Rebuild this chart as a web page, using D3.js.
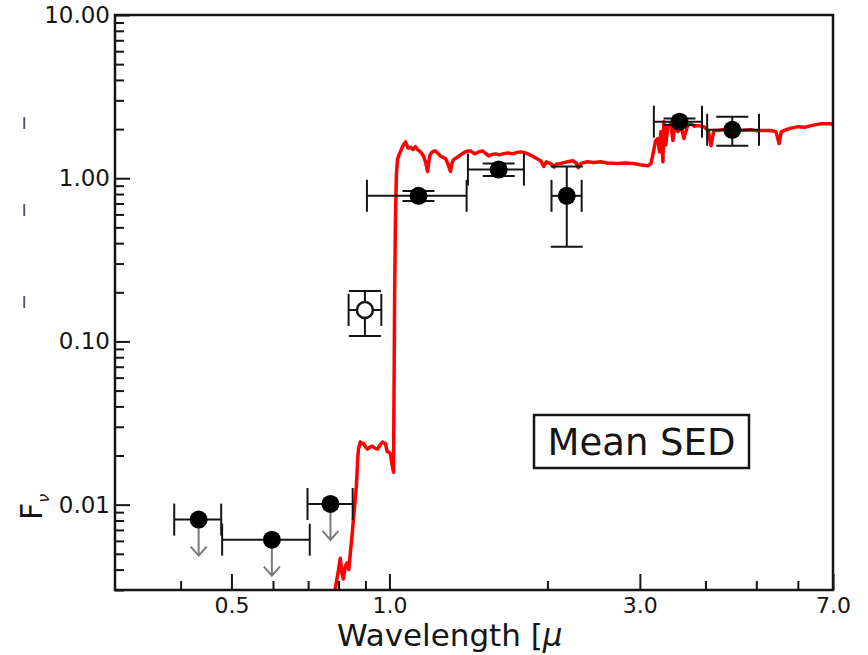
<!DOCTYPE html>
<html>
<head>
<meta charset="utf-8">
<script src="https://cdn.jsdelivr.net/npm/d3@7"></script>
<style>
  html, body { margin: 0; padding: 0; background: #fff; }
  svg { display: block; font-family: "DejaVu Sans", sans-serif; }
</style>
</head>
<body>
<svg id="chart" width="868" height="655"></svg>
<script>
// ---- Photometric points (wavelength in micron, flux F_nu) ----
const photWave     = [0.433, 0.597, 0.772, 0.898, 1.136, 1.615, 2.177, 3.57, 4.50];
const photWaveLo   = [0.389, 0.480, 0.698, 0.836, 0.906, 1.411, 2.036, 3.19, 4.03];
const photWaveHi   = [0.478, 0.705, 0.851, 0.965, 1.403, 1.804, 2.324, 3.94, 5.06];
const photFlux     = [0.0081, 0.0061, 0.0101, 0.156, 0.78, 1.13, 0.78, 2.22, 1.98];
const photFluxErr  = [0, 0, 0, 0.048, 0.055, 0.10, 0.40, 0.10, 0.40];
const photUpperLim = [true, true, true, false, false, false, false, false, false];
const photOpen     = [false, false, false, true, false, false, false, false, false];

// ---- Mean model spectrum ----
const specWave = [
  0.780, 0.789, 0.800, 0.806, 0.812, 0.817, 0.824, 0.831, 0.837, 0.843,
  0.849, 0.854, 0.860, 0.865, 0.870, 0.873, 0.880, 0.886, 0.892, 0.900,
  0.908, 0.918, 0.928, 0.938, 0.949, 0.960, 0.970, 0.983, 0.990, 0.996,
  1.004, 1.012, 1.018, 1.020, 1.023, 1.027, 1.031, 1.036, 1.042, 1.049,
  1.061, 1.073, 1.085, 1.097, 1.109, 1.121, 1.133, 1.146, 1.161, 1.172,
  1.182, 1.190, 1.197, 1.210, 1.224, 1.237, 1.251, 1.265, 1.279, 1.293,
  1.307, 1.316, 1.325, 1.340, 1.354, 1.375, 1.396, 1.412, 1.428, 1.444,
  1.459, 1.480, 1.504, 1.525, 1.545, 1.570, 1.594, 1.620, 1.643, 1.680,
  1.717, 1.750, 1.778, 1.805, 1.834, 1.870, 1.900, 1.942, 1.968, 1.990,
  2.029, 2.060, 2.080, 2.121, 2.160, 2.186, 2.235, 2.270, 2.290, 2.314,
  2.350, 2.387, 2.450, 2.527, 2.600, 2.724, 2.820, 2.921, 3.000, 3.060,
  3.108, 3.149, 3.177, 3.215, 3.247, 3.270, 3.290, 3.305, 3.319, 3.333,
  3.362, 3.392, 3.437, 3.468, 3.500, 3.545, 3.600, 3.640, 3.700, 3.753,
  3.810, 3.870, 3.974, 4.050, 4.099, 4.150, 4.226, 4.350, 4.475, 4.580,
  4.676, 4.886, 5.000, 5.105, 5.335, 5.450, 5.526, 5.580, 5.648, 5.800,
  6.005, 6.180, 6.361, 6.645, 6.943, 7.000
];
const specFlux = [
  0.0025, 0.0031, 0.0040, 0.0047, 0.0038, 0.0035, 0.0042, 0.0044, 0.0040, 0.0052,
  0.0065, 0.0082, 0.0105, 0.0130, 0.0190, 0.0219, 0.0242, 0.0236, 0.0238, 0.0226,
  0.0219, 0.0225, 0.0228, 0.0222, 0.0219, 0.0232, 0.0242, 0.0236, 0.0212, 0.0210,
  0.0205, 0.0175, 0.0158, 0.0400, 0.2000, 0.6000, 1.0500, 1.3000, 1.3800, 1.4500,
  1.58, 1.67, 1.53, 1.55, 1.50, 1.56, 1.49, 1.45, 1.37, 1.25,
  1.10, 1.30, 1.41, 1.46, 1.47, 1.42, 1.37, 1.34, 1.32, 1.22,
  1.10, 1.24, 1.30, 1.33, 1.36, 1.41, 1.45, 1.47, 1.47, 1.43,
  1.41, 1.45, 1.47, 1.42, 1.37, 1.40, 1.41, 1.39, 1.41, 1.43,
  1.41, 1.44, 1.45, 1.44, 1.41, 1.37, 1.33, 1.28, 1.18, 1.26,
  1.23, 1.17, 1.22, 1.23, 1.25, 1.26, 1.28, 1.24, 1.16, 1.23,
  1.25, 1.26, 1.25, 1.26, 1.24, 1.23, 1.24, 1.23, 1.21, 1.20,
  1.19, 1.23, 1.40, 1.70, 1.75, 1.45, 1.93, 1.75, 1.26, 2.22,
  1.60, 2.07, 2.16, 1.70, 2.10, 1.93, 2.05, 1.75, 2.10, 2.16,
  2.08, 2.10, 2.07, 1.95, 1.58, 1.96, 1.96, 1.99, 2.01, 1.97,
  1.96, 1.98, 1.95, 1.96, 1.96, 1.93, 1.63, 1.93, 1.96, 2.02,
  2.07, 2.05, 2.10, 2.16, 2.16, 2.13
];

// ---- Axis ticks ----
const xMajorTicks = [0.5, 1.0, 3.0, 7.0];
const xMinorTicks = [0.4, 0.6, 0.7, 0.8, 0.9, 2, 4, 5, 6];
const yMajorTicks = [0.01, 0.1, 1, 10];
const yMinorTicks = [
  0.003, 0.004, 0.005, 0.006, 0.007, 0.008, 0.009,
  0.02, 0.03, 0.04, 0.05, 0.06, 0.07, 0.08, 0.09,
  0.2, 0.3, 0.4, 0.5, 0.6, 0.7, 0.8, 0.9,
  2, 3, 4, 5, 6, 7, 8, 9
];
const boxLabel = "Mean SED";

// ---- Layout ----
const plot = { left: 115, right: 833, top: 15, bottom: 590 };
const ink = "#151515";

const svg = d3.select("#chart");

const x = d3.scaleLog().domain([0.3, 7]).range([plot.left, plot.right]);
const y = d3.scaleLog().domain([0.003, 10]).range([plot.bottom, plot.top]);

svg.append("defs").append("clipPath").attr("id", "plot-clip")
  .append("rect")
  .attr("x", plot.left).attr("y", plot.top)
  .attr("width", plot.right - plot.left).attr("height", plot.bottom - plot.top);

// ---- Model spectrum ----
const spec = specWave.map((w, i) => ({ w, f: specFlux[i] }));
svg.append("path")
  .datum(spec)
  .attr("clip-path", "url(#plot-clip)")
  .attr("fill", "none")
  .attr("stroke", "#ff0000")
  .attr("stroke-width", 3.5)
  .attr("stroke-linejoin", "round")
  .attr("d", d3.line().x(d => x(d.w)).y(d => y(d.f)));

// ---- Axes (ticks point inward) ----
const yMajor = svg.append("g")
  .attr("transform", `translate(${plot.left},0)`)
  .call(d3.axisLeft(y).tickValues(yMajorTicks).tickFormat(d3.format(".2f"))
    .tickSizeInner(-15).tickSizeOuter(0).tickPadding(5));
const yMinor = svg.append("g")
  .attr("transform", `translate(${plot.left},0)`)
  .call(d3.axisLeft(y).tickValues(yMinorTicks).tickFormat("")
    .tickSizeInner(-9).tickSizeOuter(0));
const xMajor = svg.append("g")
  .attr("transform", `translate(0,${plot.bottom})`)
  .call(d3.axisBottom(x).tickValues(xMajorTicks).tickFormat(d3.format(".1f"))
    .tickSizeInner(-16).tickSizeOuter(0).tickPadding(7));
const xMinor = svg.append("g")
  .attr("transform", `translate(0,${plot.bottom})`)
  .call(d3.axisBottom(x).tickValues(xMinorTicks).tickFormat("")
    .tickSizeInner(-9).tickSizeOuter(0));

[yMajor, yMinor, xMajor, xMinor].forEach(g => {
  g.select(".domain").remove();
  g.selectAll(".tick line").attr("stroke", ink).attr("stroke-width", 2);
  g.selectAll(".tick text").attr("fill", ink).attr("font-family", "DejaVu Sans");
});
yMajor.selectAll(".tick text").attr("font-size", 23);
xMajor.selectAll(".tick text").attr("font-size", 22);

// plot frame
svg.append("rect")
  .attr("x", plot.left).attr("y", plot.top)
  .attr("width", plot.right - plot.left).attr("height", plot.bottom - plot.top)
  .attr("fill", "none").attr("stroke", ink).attr("stroke-width", 2.5);

// ---- Photometry: error bars, limits, markers ----
const capSize = 16;
const phot = photWave.map((w, i) => ({
  w, lo: photWaveLo[i], hi: photWaveHi[i], f: photFlux[i], e: photFluxErr[i],
  lim: photUpperLim[i], open: photOpen[i]
}));

const pg = svg.append("g").attr("stroke", ink).attr("stroke-width", 2).attr("fill", "none");

// upper-limit arrows
const arrowLen = 36;
phot.filter(d => d.lim).forEach(d => {
  const cx = x(d.w), cy = y(d.f);
  const tip = cy + arrowLen;
  pg.append("line").attr("x1", cx).attr("x2", cx).attr("y1", cy).attr("y2", tip)
    .attr("stroke", "#7a7a7a");
  pg.append("path").attr("d", `M${cx - 8},${tip - 9}L${cx},${tip}L${cx + 8},${tip - 9}`)
    .attr("stroke", "#7a7a7a");
});

phot.forEach(d => {
  const cx = x(d.w), cy = y(d.f);
  // horizontal (band width) bar with caps
  pg.append("line").attr("x1", x(d.lo)).attr("x2", x(d.hi)).attr("y1", cy).attr("y2", cy);
  [d.lo, d.hi].forEach(v => {
    pg.append("line").attr("x1", x(v)).attr("x2", x(v))
      .attr("y1", cy - capSize).attr("y2", cy + capSize);
  });
  // vertical flux error with caps
  if (d.e > 0) {
    const y1 = y(d.f + d.e), y2 = y(d.f - d.e);
    pg.append("line").attr("x1", cx).attr("x2", cx).attr("y1", y1).attr("y2", y2);
    [y1, y2].forEach(v => {
      pg.append("line").attr("x1", cx - capSize).attr("x2", cx + capSize)
        .attr("y1", v).attr("y2", v);
    });
  }
});

svg.append("g").selectAll("circle")
  .data(phot)
  .join("circle")
  .attr("cx", d => x(d.w))
  .attr("cy", d => y(d.f))
  .attr("r", d => d.open ? 8 : 9)
  .attr("fill", d => d.open ? "#fff" : "#000")
  .attr("stroke", d => d.open ? ink : "none")
  .attr("stroke-width", 2.5);

// ---- Annotation box ----
const boxG = svg.append("g");
boxG.append("rect")
  .attr("x", 534).attr("y", 415).attr("width", 215).attr("height", 53)
  .attr("fill", "#fff").attr("stroke", ink).attr("stroke-width", 2.5);
boxG.append("text")
  .attr("x", 641.5).attr("y", 455)
  .attr("text-anchor", "middle")
  .attr("font-size", 37).attr("fill", ink)
  .text(boxLabel);

// ---- Axis titles ----
const xt = svg.append("text")
  .attr("x", 337).attr("y", 646)
  .attr("font-size", 31).attr("fill", ink);
xt.append("tspan").text("Wavelength [");
xt.append("tspan").attr("font-style", "italic").text("μ");

const yt = svg.append("text")
  .attr("transform", "translate(42,520) rotate(-90)")
  .attr("font-size", 30).attr("fill", ink);
yt.append("tspan").text("F");
yt.append("tspan").attr("font-size", 16).attr("font-style", "italic").attr("dy", 7).text("ν");

// exponent signs of the unit part of the flux label
[302, 210, 123].forEach(py => {
  svg.append("text")
    .attr("transform", `translate(30,${py}) rotate(-90)`)
    .attr("text-anchor", "middle")
    .attr("font-size", 19).attr("fill", "#444")
    .text("−");
});
</script>
</body>
</html>
